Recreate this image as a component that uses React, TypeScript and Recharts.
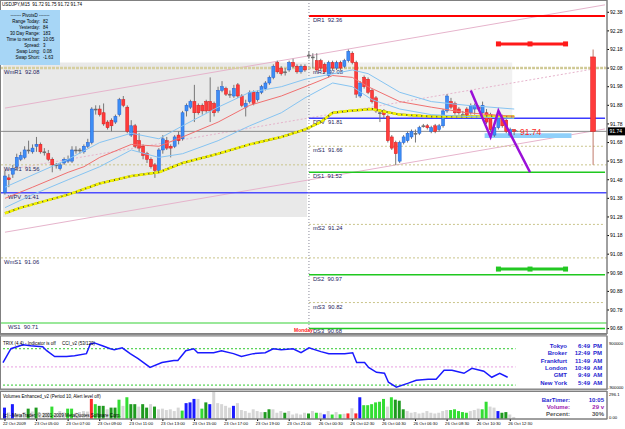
import React from "react";
import {
  ComposedChart,
  Bar,
  Line,
  XAxis,
  YAxis,
  ReferenceLine,
  ReferenceArea,
  Cell,
} from "recharts";

// USDJPY M15 bars (130 bars, 23 Oct 03:00 .. 26 Oct 12:45)
const opens = [
  91.41, 91.49, 91.51, 91.55, 91.59, 91.6, 91.64, 91.63, 91.66, 91.67, 91.63, 91.62, 91.59, 91.56, 91.54, 91.57, 91.58, 91.58, 91.64, 91.64,
  91.63, 91.66, 91.68, 91.86, 91.86, 91.84, 91.79, 91.8, 91.79, 91.83, 91.91, 91.87, 91.72, 91.77, 91.69, 91.66, 91.62, 91.59, 91.56, 91.53,
  91.64, 91.69, 91.66, 91.66, 91.72, 91.7, 91.85, 91.87, 91.9, 91.88, 91.88, 91.9, 91.9, 91.89, 91.85, 91.96, 91.97, 91.94, 91.93, 91.99,
  91.93, 91.87, 91.9, 91.95, 91.91, 91.95, 91.97, 92.0, 92.03, 92.11, 92.08, 92.06, 92.07, 92.11, 92.09, 92.06, 92.09, 92.15, 92.14, 92.12,
  92.12, 92.1, 92.04, 92.11, 92.08, 92.11, 92.09, 92.12, 92.16, 92.11, 91.93, 92.03, 92.02, 91.96, 91.92, 91.84, 91.85, 91.82, 91.71, 91.68,
  91.58, 91.68, 91.69, 91.71, 91.73, 91.73, 91.77, 91.77, 91.74, 91.77, 91.75, 91.77, 91.85, 91.9, 91.89, 91.86, 91.83, 91.86, 91.84, 91.86,
  91.87, 91.84, 91.84, 91.83, 91.72, 91.76, 91.82, 91.8, 91.72, 91.75,
];
const highs = [
  91.53, 91.51, 91.56, 91.62, 91.63, 91.66, 91.69, 91.67, 91.71, 91.68, 91.65, 91.64, 91.6, 91.57, 91.57, 91.6, 91.61, 91.66, 91.66, 91.65,
  91.67, 91.7, 91.87, 91.88, 91.88, 91.89, 91.8, 91.81, 91.83, 91.92, 91.93, 91.88, 91.8, 91.78, 91.73, 91.67, 91.63, 91.6, 91.57, 91.65,
  91.72, 91.71, 91.67, 91.72, 91.74, 91.85, 91.89, 91.91, 91.99, 91.89, 91.89, 91.91, 92.03, 91.9, 91.98, 92.01, 91.98, 91.96, 91.99, 92.0,
  91.94, 91.91, 91.96, 91.96, 91.96, 91.99, 92.01, 92.04, 92.1, 92.12, 92.09, 92.08, 92.12, 92.13, 92.1, 92.1, 92.1, 92.17, 92.16, 92.16,
  92.13, 92.11, 92.12, 92.12, 92.12, 92.12, 92.13, 92.18, 92.17, 92.12, 92.01, 92.04, 92.03, 91.97, 91.93, 91.86, 91.86, 91.83, 91.72, 91.69,
  91.69, 91.72, 91.74, 91.75, 91.75, 91.77, 91.78, 91.78, 91.77, 91.78, 91.78, 91.86, 91.94, 91.92, 91.9, 91.87, 91.85, 91.87, 91.89, 91.89,
  91.88, 91.9, 91.86, 91.84, 91.77, 91.82, 91.83, 91.81, 91.76, 91.75,
];
const lows = [
  91.4, 91.44, 91.49, 91.53, 91.58, 91.59, 91.62, 91.62, 91.63, 91.62, 91.61, 91.58, 91.52, 91.54, 91.53, 91.56, 91.57, 91.57, 91.62, 91.62,
  91.62, 91.65, 91.67, 91.83, 91.82, 91.77, 91.75, 91.74, 91.78, 91.82, 91.87, 91.73, 91.71, 91.65, 91.63, 91.59, 91.57, 91.54, 91.49, 91.52,
  91.62, 91.64, 91.6, 91.65, 91.67, 91.69, 91.82, 91.86, 91.79, 91.83, 91.83, 91.84, 91.79, 91.82, 91.84, 91.95, 91.93, 91.92, 91.92, 91.92,
  91.87, 91.82, 91.89, 91.88, 91.9, 91.94, 91.96, 91.99, 92.02, 92.05, 92.04, 92.04, 92.06, 92.08, 92.05, 92.05, 92.06, 92.13, 92.08, 92.06,
  92.07, 92.05, 92.03, 92.07, 92.07, 92.07, 92.08, 92.11, 92.1, 91.92, 91.92, 91.97, 91.94, 91.89, 91.84, 91.79, 91.81, 91.68, 91.64, 91.56,
  91.57, 91.67, 91.68, 91.7, 91.68, 91.72, 91.76, 91.75, 91.73, 91.73, 91.74, 91.76, 91.84, 91.86, 91.83, 91.83, 91.81, 91.81, 91.83, 91.83,
  91.85, 91.83, 91.78, 91.74, 91.71, 91.75, 91.76, 91.73, 91.71, 91.72,
];
const closes = [
  91.5, 91.48, 91.54, 91.6, 91.61, 91.64, 91.64, 91.65, 91.67, 91.63, 91.63, 91.59, 91.56, 91.56, 91.56, 91.59, 91.59, 91.64, 91.64, 91.64,
  91.66, 91.68, 91.86, 91.86, 91.83, 91.78, 91.76, 91.77, 91.82, 91.91, 91.88, 91.74, 91.77, 91.66, 91.65, 91.61, 91.59, 91.55, 91.53, 91.64,
  91.7, 91.65, 91.65, 91.71, 91.69, 91.84, 91.88, 91.9, 91.84, 91.84, 91.85, 91.85, 91.85, 91.84, 91.96, 91.98, 91.94, 91.94, 91.97, 91.93,
  91.88, 91.89, 91.95, 91.89, 91.95, 91.98, 92.0, 92.03, 92.09, 92.06, 92.05, 92.06, 92.11, 92.09, 92.06, 92.09, 92.07, 92.15, 92.14, 92.07,
  92.08, 92.06, 92.11, 92.08, 92.11, 92.08, 92.12, 92.17, 92.11, 91.94, 92.0, 91.98, 91.95, 91.9, 91.85, 91.84, 91.83, 91.69, 91.65, 91.62,
  91.68, 91.71, 91.73, 91.74, 91.73, 91.76, 91.77, 91.76, 91.76, 91.74, 91.77, 91.85, 91.93, 91.87, 91.84, 91.84, 91.83, 91.82, 91.88, 91.88,
  91.86, 91.88, 91.79, 91.75, 91.76, 91.81, 91.77, 91.74, 91.75, 91.74,
];

// daily candle drawn by an indicator at the right edge
const dailyIndex = 149;
const dailyOHLC = [92.14, 92.18, 91.56, 91.74];

// moving averages: [bar index, price]
const yellowMA = [
  [0, 91.3], [4, 91.33], [16, 91.4], [24, 91.46], [32, 91.5], [39, 91.52], [45, 91.57], [54, 91.62], [62, 91.67], [70, 91.71],
  [76, 91.75], [80, 91.79], [83, 91.84], [87, 91.85], [93, 91.86], [100, 91.83], [108, 91.82], [117, 91.82], [129, 91.82],
];
const redMA = [
  [0, 91.38], [7, 91.44], [16, 91.52], [20, 91.55], [24, 91.6], [32, 91.67], [39, 91.66], [45, 91.71], [54, 91.79], [62, 91.88],
  [70, 91.93], [76, 91.98], [83, 92.04], [88, 92.03], [92, 91.98], [100, 91.9], [108, 91.87], [117, 91.84], [129, 91.82],
];
const upperBand = [
  [0, 91.44], [16, 91.59], [24, 91.68], [32, 91.73], [39, 91.7], [45, 91.77], [54, 91.87], [62, 91.95], [70, 91.98], [76, 92.02],
  [88, 92.07], [92, 92.05], [100, 91.95], [108, 91.9], [117, 91.88], [129, 91.86],
];
const lowerBand = [
  [0, 91.33], [7, 91.4], [16, 91.48], [24, 91.55], [32, 91.64], [39, 91.6], [45, 91.62], [54, 91.69], [62, 91.77], [70, 91.84],
  [76, 91.92], [83, 92.0], [88, 91.98], [93, 91.91], [100, 91.86], [108, 91.83], [117, 91.82], [129, 91.81],
];
const zigzag = [[118, 91.96], [123, 91.71], [125, 91.85], [133, 91.52]];
const highProj = [[125, 92.21], [133, 92.21], [142, 92.21]];
const lowProj = [[125, 91.0], [133, 91.0], [142, 91.0]];

// pivot levels
const dailyNames = ["DR1", "mR1", "DPV", "mS1", "DS1", "mS2", "DS2", "mS3", "DS3"];
const dailyValues = [92.36, 92.08, 91.81, 91.66, 91.52, 91.24, 90.97, 90.82, 90.68];
const weeklyNames = ["WmR1", "WmR1", "WPV", "WmS1", "WS1"];
const weeklyValues = [92.08, 91.56, 91.41, 91.06, 90.71];

const priceTicks = [
  92.38, 92.28, 92.18, 92.08, 91.98, 91.88, 91.78, 91.68, 91.58, 91.48, 91.38, 91.28, 91.18, 91.08, 90.98, 90.88, 90.78, 90.68,
];

// TRIX line: [bar index, value] (panel scaled so the dotted levels sit at +100 / 0 / -100)
const trixPts = [
  [0, 24], [2, 100], [5, 122], [7, 116], [10, 111], [11, 89], [13, 57], [16, 57], [18, 62], [21, 73], [22, 127], [23, 132], [25, 116],
  [27, 100], [28, 95], [30, 105], [32, 73], [34, 46], [37, -3], [40, 24], [43, 35], [44, 35], [46, 89], [48, 100], [49, 78], [53, 78],
  [55, 89], [58, 73], [60, 57], [63, 73], [66, 78], [68, 100], [70, 95], [73, 100], [75, 78], [77, 105], [80, 84], [82, 73], [86, 73],
  [88, 78], [89, 24], [91, 24], [92, -3], [94, -30], [96, -35], [97, -84], [99, -111], [102, -89], [104, -73], [107, -68], [109, -68],
  [111, -19], [113, -19], [116, -35], [118, -8], [121, -24], [123, -57], [125, -35], [127, -57],
];

// volumes and their colour codes (b blue, r red, g green, d dark green, n grey)
const volumes = [
  122, 70, 159, 60, 48, 75, 111, 80, 122, 60, 67, 70, 133, 60, 85, 70, 111, 111, 67, 75,
  85, 80, 215, 159, 141, 141, 104, 122, 122, 207, 141, 233, 159, 159, 133, 159, 122, 159, 133, 104,
  111, 96, 104, 85, 122, 90, 170, 178, 215, 215, 111, 178, 159, 296, 170, 159, 141, 122, 141, 170,
  96, 85, 67, 104, 85, 74, 74, 104, 104, 67, 85, 67, 85, 48, 59, 48, 67, 59, 85, 67,
  67, 50, 85, 48, 74, 50, 56, 60, 115, 60, 233, 148, 148, 159, 178, 185, 215, 133, 233, 207,
  196, 104, 85, 67, 74, 59, 67, 85, 67, 59, 67, 85, 96, 96, 104, 85, 74, 67, 85, 96,
  111, 104, 185, 133, 122, 85, 67, 74, 48, 22,
];
const volumeKinds =
  "bnbnnndndnnngnnnggnnnnrgddnddgngddnddndnnnnnngbbbngdbnnnnnbnnnnnnnddnnndnnnnndn" +
  "gnbngngnrnrbggggggngdddnnnnnnnnnnngggggnnnggnnbddnnnnn";
const volumeColors: Record<string, string> = {
  b: "#1a1aff",
  r: "#ff2a2a",
  g: "#33dd33",
  d: "#1f9a1f",
  n: "#d6d6d6",
};

const timeTicks = [0, 8, 16, 24, 32, 40, 48, 56, 64, 72, 80, 88, 96, 104, 112, 120, 128];
const timeLabels = [
  "22 Oct 2009", "23 Oct 05:00", "23 Oct 07:00", "23 Oct 09:00", "23 Oct 11:00", "23 Oct 13:00", "23 Oct 15:00",
  "23 Oct 17:00", "23 Oct 19:00", "23 Oct 21:00", "26 Oct 00:30", "26 Oct 02:30", "26 Oct 04:30", "26 Oct 06:30",
  "26 Oct 08:30", "26 Oct 10:30", "26 Oct 12:30",
];

const infoLabels = ["Range Today:", "Yesterday:", "30 Day Range:", "Time to next bar:", "Spread:", "Swap Long:", "Swap Short:"];
const infoValues = ["82", "84", "183", "10:05", "3", "0.08", "-1.63"];

const clockCities = ["Tokyo", "Broker", "Frankfurt", "London", "GMT", "New York"];
const clockTimes = ["6:49", "12:49", "11:49", "10:49", "9:49", "5:49"];
const clockAmPm = ["PM", "PM", "AM", "AM", "AM", "AM"];

const SLOTS = 153;
const FONT = "'Liberation Sans', Arial, sans-serif";

const toMap = (pts: number[][]) => {
  const m: Record<number, number> = {};
  pts.forEach(([i, v]) => (m[i] = v));
  return m;
};
const yMap = toMap(yellowMA);
const rMap = toMap(redMA);
const uMap = toMap(upperBand);
const lMap = toMap(lowerBand);
const zMap = toMap(zigzag);
const hpMap = toMap(highProj);
const lpMap = toMap(lowProj);
const tMap = toMap(trixPts);

const rows = Array.from({ length: SLOTS }, (_, i) => {
  const r: any = { i };
  if (i < opens.length) {
    r.o = opens[i];
    r.h = highs[i];
    r.l = lows[i];
    r.c = closes[i];
    r.range = [lows[i], highs[i]];
    r.vol = volumes[i];
    r.vk = volumeKinds[i];
  }
  if (i === dailyIndex) {
    const [o, h, l, c] = dailyOHLC;
    Object.assign(r, { o, h, l, c, range: [l, h], daily: true });
  }
  r.yma = yMap[i] ?? null;
  r.rma = rMap[i] ?? null;
  r.ub = uMap[i] ?? null;
  r.lb = lMap[i] ?? null;
  r.zz = zMap[i] ?? null;
  r.hp = hpMap[i] ?? null;
  r.lp = lpMap[i] ?? null;
  r.trix = tMap[i] ?? null;
  return r;
});

const Candle = (props: any) => {
  const { x, y, width, height, payload } = props;
  if (!payload || payload.o == null || height == null) return <g />;
  const { o, h, l, c, daily } = payload;
  const top = height < 0 ? y + height : y;
  const hh = Math.abs(height);
  const k = hh / (h - l || 0.0001);
  const cx = x + width / 2;
  const yo = top + (h - o) * k;
  const yc = top + (h - c) * k;
  const up = c > o;
  const flat = c === o;
  const bw = daily ? 5 : 3;
  const fill = flat ? "#6a6a6a" : up ? "#3d8ef5" : "#ff3b3b";
  const edge = flat ? "#6a6a6a" : up ? "#1f5fd6" : "#d81818";
  return (
    <g>
      <line x1={cx} x2={cx} y1={top} y2={top + hh} stroke={daily ? "#c07a6a" : "#777"} strokeWidth={1} />
      <rect
        x={cx - bw / 2}
        y={Math.min(yo, yc)}
        width={bw}
        height={Math.max(Math.abs(yc - yo), 1)}
        fill={fill}
        stroke={edge}
        strokeWidth={0.5}
      />
    </g>
  );
};

const squareDot = (color: string) => (p: any) =>
  p.value == null || p.cy == null ? (
    <g key={p.index} />
  ) : (
    <rect key={p.index} x={p.cx - 2.5} y={p.cy - 2.5} width={5} height={5} fill={color} />
  );

const LevelLabel = (props: any) => {
  const { viewBox, text, dx = 4, dy = 6 } = props;
  if (!viewBox) return null;
  return (
    <text x={viewBox.x + dx} y={viewBox.y + dy} fontSize={5.8} fill="#1c1c5c" fontFamily={FONT} style={{ whiteSpace: "pre" }}>
      {text}
    </text>
  );
};

const PriceTag = (props: any) => {
  const { viewBox } = props;
  if (!viewBox) return null;
  const x = viewBox.x + viewBox.width;
  return (
    <g>
      <rect x={x + 1} y={viewBox.y - 4} width={17} height={8} fill="#000" />
      <text x={x + 2.5} y={viewBox.y + 2} fontSize={5} fill="#fff" fontFamily={FONT}>
        91.74
      </text>
    </g>
  );
};

const TimeTick = (props: any) => {
  const { x, y, payload } = props;
  const k = timeTicks.indexOf(payload.value);
  return (
    <text x={x - 2} y={y + 4} fontSize={4.2} fill="#000" fontFamily={FONT}>
      {timeLabels[k]}
    </text>
  );
};

const dailyStyle = (name: string) => {
  if (name === "DR1") return { stroke: "#ff0000", strokeWidth: 2 };
  if (name === "DPV") return { stroke: "#3b3bff", strokeWidth: 1.5 };
  if (name.startsWith("DS")) return { stroke: "#1fc81f", strokeWidth: 1.5 };
  return { stroke: "#c9c48a", strokeWidth: 1, strokeDasharray: "2 2" };
};
const weeklyStyle = (name: string, idx: number) => {
  if (name === "WPV") return { stroke: "#4d4dff", strokeWidth: 1.5 };
  if (name === "WS1") return { stroke: "#9ae89a", strokeWidth: 2 };
  if (idx === 0) return { stroke: "#d6cfa0", strokeWidth: 2.5, strokeDasharray: "3 1" };
  return { stroke: "#c9c48a", strokeWidth: 1, strokeDasharray: "2 2" };
};

const T = ({ x, y, s = 4.5, c = "#000", w = 400, a = "start", children }: any) => (
  <text x={x} y={y} fontSize={s} fill={c} fontWeight={w} textAnchor={a} fontFamily={FONT} style={{ whiteSpace: "pre" }}>
    {children}
  </text>
);

const MainPanel = () => (
  <ComposedChart width={625} height={334} data={rows} margin={{ top: 0, right: 0, bottom: 0, left: 0 }}>
    <XAxis dataKey="i" type="category" hide padding={{ left: 3, right: 0 }} />
    <YAxis
      orientation="right"
      type="number"
      width={18}
      domain={[90.651, 92.446]}
      allowDataOverflow
      ticks={priceTicks}
      interval={0}
      tickFormatter={(v: number) => v.toFixed(2)}
      tick={{ fontSize: 5, fill: "#000", fontFamily: FONT }}
      tickSize={2}
      tickMargin={1}
      axisLine={{ stroke: "#808080" }}
      tickLine={{ stroke: "#000" }}
    />
    <ReferenceArea x1={0} x2={76} y1={91.28} y2={92.11} fill="#e9e9e9" fillOpacity={1} stroke="none" zIndex={-60} />
    <ReferenceArea x1={77} x2={128} y1={91.81} y2={92.11} fill="#f1f1f1" fillOpacity={1} stroke="none" zIndex={-60} />
    <ReferenceLine segment={[{ x: 0, y: 91.865 }, { x: 152, y: 92.42 }]} stroke="#e6b4cc" strokeWidth={1} zIndex={-40} />
    <ReferenceLine segment={[{ x: 0, y: 91.531 }, { x: 152, y: 92.086 }]} stroke="#e6b4cc" strokeWidth={1} strokeDasharray="2 2" zIndex={-40} />
    <ReferenceLine segment={[{ x: 0, y: 91.198 }, { x: 152, y: 91.753 }]} stroke="#e6b4cc" strokeWidth={1} zIndex={-40} />
    {weeklyNames.map((n, k) => (
      <ReferenceLine
        key={"w" + k}
        y={weeklyValues[k]}
        {...weeklyStyle(n, k)}
        zIndex={-40}
        label={<LevelLabel text={`${n}  ${weeklyValues[k].toFixed(2)}`} dx={n.length === 3 ? 8 : 4} />}
      />
    ))}
    {dailyNames.map((n, k) => (
      <ReferenceLine
        key={"d" + k}
        segment={[{ x: 77, y: dailyValues[k] }, { x: 152, y: dailyValues[k] }]}
        {...dailyStyle(n)}
        zIndex={-40}
        label={
          <LevelLabel
            text={`${n}  ${dailyValues[k].toFixed(2)}`}
            dy={k === dailyNames.length - 1 ? 4.6 : 6}
          />
        }
      />
    ))}
    <ReferenceLine y={91.74} stroke="#8a8a8a" strokeWidth={1} zIndex={-40} label={<PriceTag />} />
    <ReferenceLine x={77} stroke="#8a8a9a" strokeDasharray="1 2" zIndex={-40} />
    <ReferenceArea x1={122} x2={143} y1={91.705} y2={91.73} fill="#8fd0fa" fillOpacity={1} stroke="none" />
    <Line dataKey="yma" type="linear" stroke="#5a5a20" strokeWidth={2} dot={false} activeDot={false} connectNulls isAnimationActive={false} />
    <Line dataKey="yma" type="linear" stroke="#f2f200" strokeWidth={2.6} strokeDasharray="4 1" dot={false} activeDot={false} connectNulls isAnimationActive={false} />
    <Line dataKey="ub" type="linear" stroke="#86c4f2" strokeWidth={1} dot={false} activeDot={false} connectNulls isAnimationActive={false} />
    <Line dataKey="lb" type="linear" stroke="#86c4f2" strokeWidth={1} dot={false} activeDot={false} connectNulls isAnimationActive={false} />
    <Line dataKey="rma" type="linear" stroke="#f07070" strokeWidth={1} dot={false} activeDot={false} connectNulls isAnimationActive={false} />
    <Bar dataKey="range" shape={<Candle />} isAnimationActive={false} />
    <Line dataKey="zz" type="linear" stroke="#9a10d8" strokeWidth={2.5} dot={false} activeDot={false} connectNulls isAnimationActive={false} />
    <Line dataKey="hp" type="linear" stroke="#ff1a1a" strokeWidth={3} dot={squareDot("#ff1a1a")} activeDot={false} connectNulls isAnimationActive={false} />
    <Line dataKey="lp" type="linear" stroke="#22c822" strokeWidth={3} dot={squareDot("#22c822")} activeDot={false} connectNulls isAnimationActive={false} />
  </ComposedChart>
);

const TrixPanel = () => (
  <ComposedChart width={625} height={54} data={rows} margin={{ top: 0, right: 0, bottom: 0, left: 0 }}>
    <XAxis dataKey="i" type="category" hide padding={{ left: 3, right: 0 }} />
    <YAxis orientation="right" type="number" width={18} domain={[-127, 170]} allowDataOverflow tick={false} tickLine={false} axisLine={{ stroke: "#808080" }} />
    <ReferenceLine segment={[{ x: 0, y: 100 }, { x: 129, y: 100 }]} stroke="#2ec82e" strokeDasharray="2 2" />
    <ReferenceLine segment={[{ x: 0, y: 0 }, { x: 129, y: 0 }]} stroke="#e8a0e0" strokeDasharray="2 2" />
    <ReferenceLine segment={[{ x: 0, y: -100 }, { x: 129, y: -100 }]} stroke="#2ec82e" strokeDasharray="2 2" />
    <Line dataKey="trix" type="linear" stroke="#1a1aff" strokeWidth={1.5} dot={false} activeDot={false} connectNulls isAnimationActive={false} />
  </ComposedChart>
);

const VolumePanel = () => (
  <ComposedChart width={625} height={38} data={rows} margin={{ top: 0, right: 0, bottom: 0, left: 0 }}>
    <XAxis
      dataKey="i"
      type="category"
      padding={{ left: 3, right: 0 }}
      ticks={timeTicks}
      interval={0}
      height={10}
      tick={<TimeTick />}
      tickSize={2}
      tickMargin={0}
      axisLine={{ stroke: "#808080" }}
      tickLine={{ stroke: "#000" }}
    />
    <YAxis orientation="right" type="number" width={18} domain={[0, 300]} tick={false} tickLine={false} axisLine={{ stroke: "#808080" }} />
    <Bar dataKey="vol" barSize={3} isAnimationActive={false}>
      {rows.map((r) => (
        <Cell key={r.i} fill={volumeColors[r.vk] ?? "transparent"} />
      ))}
    </Bar>
  </ComposedChart>
);

export default function App() {
  return (
    <div style={{ position: "absolute", left: 0, top: 0, width: 625, height: 429, background: "#fff", overflow: "hidden" }}>
      <div style={{ position: "absolute", left: 0, top: 0 }}>
        <MainPanel />
      </div>
      <div style={{ position: "absolute", left: 0, top: 336 }}>
        <TrixPanel />
      </div>
      <div style={{ position: "absolute", left: 0, top: 391 }}>
        <VolumePanel />
      </div>
      <svg width={625} height={429} style={{ position: "absolute", left: 0, top: 0, pointerEvents: "none" }}>
        {/* panel frames */}
        <rect x={0.5} y={0.5} width={606.5} height={333} fill="none" stroke="#808080" />
        <rect x={0} y={334} width={607} height={1.5} fill="#8c8c8c" />
        <rect x={0.5} y={336} width={606.5} height={53} fill="none" stroke="#808080" />
        <rect x={0} y={389} width={607} height={1.5} fill="#8c8c8c" />
        <rect x={0.5} y={391.5} width={606.5} height={27.5} fill="none" stroke="#808080" />

        <T x={2} y={6} s={4.6}>USDJPY,M15  91.72 91.75 91.72 91.74</T>

        {/* info box */}
        <rect x={0} y={10} width={60} height={55} fill="#a7d6f6" />
        <T x={30} y={17} a="middle">------- PivotsD -------</T>
        {infoLabels.map((t, k) => (
          <React.Fragment key={t}>
            <T x={40} y={23 + k * 6} a="end">{t}</T>
            <T x={43} y={23 + k * 6}>{infoValues[k]}</T>
          </React.Fragment>
        ))}

        <T x={515} y={134} s={6} c="#555">^</T>
        <T x={520} y={135} s={8.5} c="#ff2a2a">91.74</T>
        <T x={294} y={332} s={5} c="#ff2020" w={700}>Monday</T>

        {/* TRIX panel texts */}
        <T x={3} y={345}>TRIX (4,4) - Indicator is off     CCI_v2 (53/120)</T>
        <T x={609} y={345} s={4.2}>900000</T>
        <T x={608} y={389} s={4.2}>-900000</T>
        {clockCities.map((c, k) => (
          <React.Fragment key={c}>
            <T x={567} y={348 + k * 7.3} s={6} c="#1f1fd0" w={700} a="end">{c}</T>
            <T x={590} y={348 + k * 7.3} s={6} c="#1f1fd0" w={700} a="end">{clockTimes[k]}</T>
            <T x={593} y={348 + k * 7.3} s={6} c="#1f1fd0" w={700}>{clockAmPm[k]}</T>
          </React.Fragment>
        ))}

        {/* volume panel texts */}
        <T x={3} y={398}>Volumes Enhanced_v2 (Period 10, Alert level off)</T>
        <T x={3} y={417}>(c) - MetaTrader, © 2001-2009 MetaQuotes Software Corp.</T>
        <T x={609} y={396} s={4.2}>296.1</T>
        <T x={609} y={419} s={4.2}>0.00</T>
        <T x={570} y={402} s={6} c="#1f1fd0" w={700} a="end">BarTimer:</T>
        <T x={604} y={402} s={6} c="#1f1fd0" w={700} a="end">10:05</T>
        <T x={570} y={409} s={6} c="#a020b0" w={700} a="end">Volume:</T>
        <T x={604} y={409} s={6} c="#a020b0" w={700} a="end">29 v</T>
        <T x={570} y={416} s={6} c="#555" w={700} a="end">Percent:</T>
        <T x={604} y={416} s={6} c="#555" w={700} a="end">30%</T>
      </svg>
    </div>
  );
}
